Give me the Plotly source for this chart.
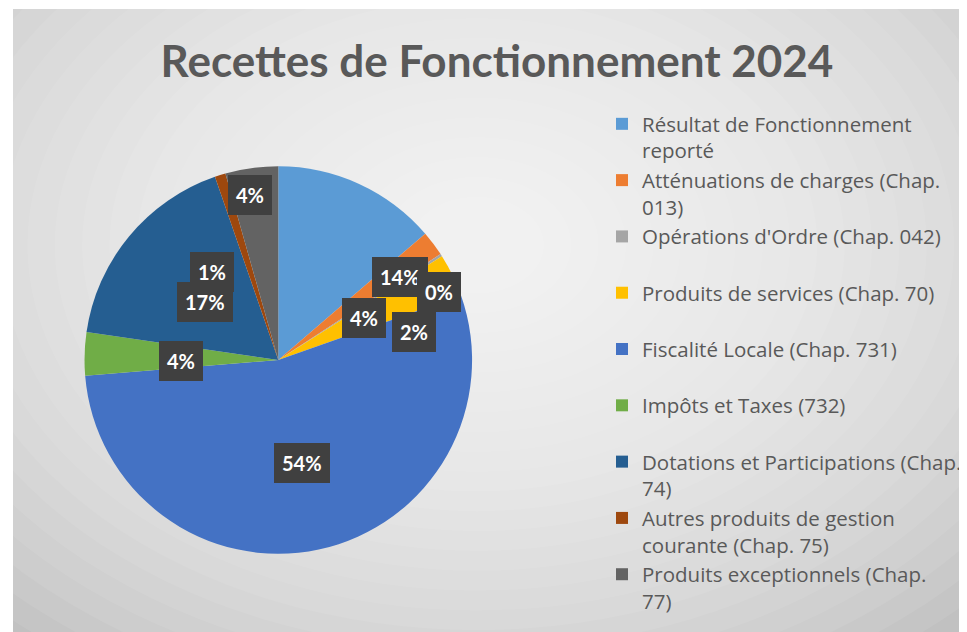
import math
import plotly.graph_objects as go

# ---- data ----
categories = [
    "Résultat de Fonctionnement<br>reporté",
    "Atténuations de charges (Chap.<br>013)",
    "Opérations d'Ordre (Chap. 042)",
    "Produits de services (Chap. 70)",
    "Fiscalité Locale (Chap. 731)",
    "Impôts et Taxes (732)",
    "Dotations et Participations (Chap.<br>74)",
    "Autres produits de gestion<br>courante (Chap. 75)",
    "Produits exceptionnels (Chap.<br>77)",
]
shares = [13.7, 2.1, 0.2, 3.6, 54.1, 3.6, 17.4, 0.9, 4.4]

# ---- style ----
colors = ["#5B9BD5", "#ED7D31", "#A5A5A5", "#FFC000", "#4472C4",
          "#70AD47", "#255E91", "#9E480E", "#636363"]
# label placement (angle offset from slice middle in degrees, radius fraction)
label_dang = [31.1, 25.3, 10.0, 0.0, -1.0, -2.4, -1.4, -19.5, -2.0]
label_rf = [0.757, 0.717, 0.90, 0.49, 0.54, 0.50, 0.48, 0.565, 0.86]
label_order = [0, 3, 1, 2, 4, 5, 6, 7, 8]

# page is offset by the body margin (8px); figure fills the rest of the window
OFF = 8
W, H = 967 - OFF, 632 - OFF


def px(X):
    return (X - OFF) / W


def py(Y):
    return 1 - (Y - OFF) / H


CX, CY, R = 280, 360, 195  # page pixels

legend_labels = [c if "<br>" in c else c + "<br>&nbsp;" for c in categories]

fig = go.Figure()
fig.add_trace(go.Pie(
    labels=legend_labels,
    values=shares,
    sort=False,
    direction="clockwise",
    rotation=0,
    marker=dict(colors=colors, line=dict(width=0)),
    textinfo="none",
    hoverinfo="label+percent",
    domain=dict(x=[px(CX - R), px(CX + R)], y=[py(CY + R), py(CY - R)]),
))

# background: gray panel with radial light gradient
shapes = [dict(type="rect", xref="paper", yref="paper", x0=px(13), x1=1,
               y0=0, y1=py(9), fillcolor="#c1c1c1", line=dict(width=0),
               layer="below")]
GX, GY = 480, 245
n = 24
for i in range(n):
    rx = 700 - i * (660 / n)
    ry = rx * 0.72
    shapes.append(dict(type="circle", xref="paper", yref="paper",
                       x0=px(GX - rx), x1=px(GX + rx),
                       y0=py(GY + ry), y1=py(GY - ry),
                       fillcolor="white", opacity=0.075, line=dict(width=0),
                       layer="below"))
shapes.append(dict(type="rect", xref="paper", yref="paper", x0=0, x1=px(13),
                   y0=0, y1=1, fillcolor="white", line=dict(width=0), layer="below"))
shapes.append(dict(type="rect", xref="paper", yref="paper", x0=0, x1=1,
                   y0=py(9), y1=1, fillcolor="white", line=dict(width=0), layer="below"))

# data labels computed from slice angles
total = sum(shares)
cum = 0.0
mids = []
pcts = []
for v in shares:
    mids.append((cum + v / 2) / total * 360.0)
    pcts.append(v / total * 100.0)
    cum += v

annotations = []
for i in label_order:
    ang = math.radians(mids[i] + label_dang[i])
    r = label_rf[i] * R
    lx = CX + r * math.sin(ang)
    ly = CY - r * math.cos(ang)
    annotations.append(dict(
        x=px(lx), y=py(ly), xref="paper", yref="paper",
        text="<b>%d%%</b>" % round(pcts[i]), showarrow=False,
        font=dict(family="Lato", size=20, color="white"),
        bgcolor="#404040", borderpad=8, borderwidth=0,
        xanchor="center", yanchor="middle",
    ))

fig.update_layout(
    width=W, height=H,
    margin=dict(l=0, r=0, t=0, b=0),
    paper_bgcolor="white",
    plot_bgcolor="rgba(0,0,0,0)",
    shapes=shapes,
    annotations=annotations,
    title=dict(text="<b>Recettes de Fonctionnement 2024</b>",
               x=px(497), xanchor="center", y=py(62), yanchor="middle",
               font=dict(family="Lato", size=44, color="#595959")),
    legend=dict(x=px(606), xanchor="left", y=py(104), yanchor="top",
                font=dict(family="Open Sans", size=20.5, color="#595959"),
                valign="top", bgcolor="rgba(0,0,0,0)", tracegroupgap=0),
    showlegend=True,
)

fig.write_html("out.html")
